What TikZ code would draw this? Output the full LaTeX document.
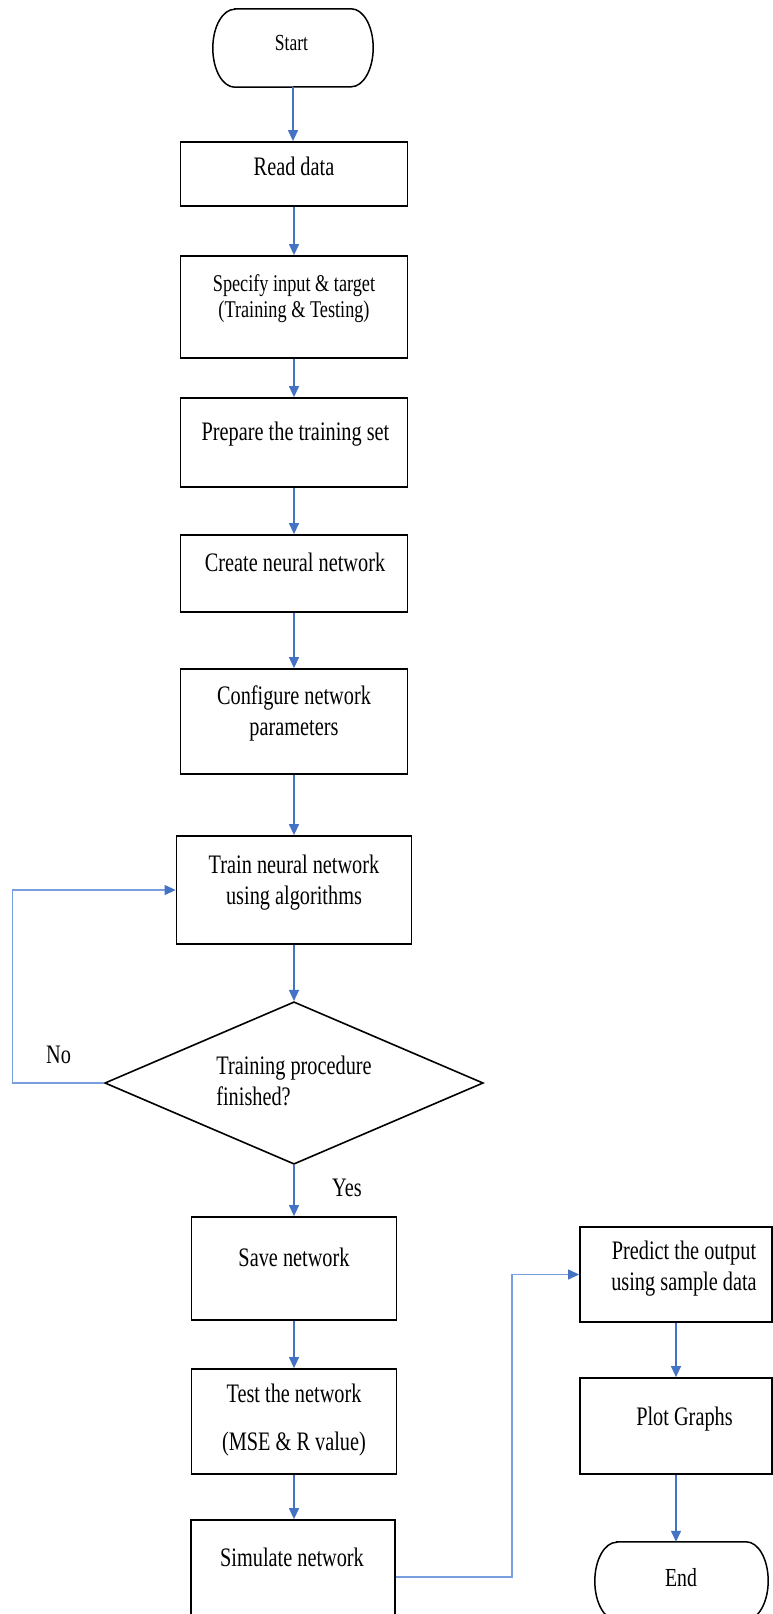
\documentclass[tikz,border=0pt]{standalone}
\usepackage{fontspec}
\setmainfont{Liberation Serif}[FakeStretch=0.76]
\usetikzlibrary{shapes.geometric,arrows.meta}
\definecolor{arrblue}{RGB}{68,114,196}
\definecolor{lineblue}{RGB}{120,158,222}
\tikzset{
  procbox/.style={draw=black, line width=1.8pt, inner sep=0pt, shape=rectangle},
  termbox/.style={inner sep=0pt, shape=rectangle},
  termline/.style={draw=black, line width=1.5pt},
  txt/.style={inner sep=0pt, anchor=base, align=center, font=\fontsize{26.7}{30.5}\selectfont},
  arr/.style={draw=arrblue, line width=1.3pt, -{Triangle[length=11pt,width=10pt,fill=arrblue]}},
  backarr/.style={draw=lineblue, line width=1.1pt, -{Triangle[length=11pt,width=10pt,color=arrblue,fill=arrblue]}}
}
\begin{document}
\begin{tikzpicture}[x=1pt,y=1pt]
\useasboundingbox (0,0) rectangle (773,-1614);
\clip (0,0) rectangle (773,-1614);
\fill[white] (0,0) rectangle (773,-1614);

% terminals
\node[termbox, minimum width=160pt, minimum height=78pt] (start) at (293,-48) {};
\draw[termline] ([xshift=22pt]start.north west) -- ([xshift=-22pt]start.north east)
  arc[start angle=90,end angle=-90,x radius=22pt,y radius=39pt]
  -- ([xshift=22pt]start.south west)
  arc[start angle=270,end angle=90,x radius=22pt,y radius=39pt] -- cycle;
\node[txt, font=\fontsize{23}{27}\selectfont] (startt) at (291.5,-50) {Start};

\node[termbox, minimum width=173pt, minimum height=78pt] (end) at (681.5,-1581) {};
\draw[termline] ([xshift=22pt]end.north west) -- ([xshift=-22pt]end.north east)
  arc[start angle=90,end angle=-90,x radius=22pt,y radius=39pt]
  -- ([xshift=22pt]end.south west)
  arc[start angle=270,end angle=90,x radius=22pt,y radius=39pt] -- cycle;
\node[txt, font=\fontsize{26}{30}\selectfont] (endt) at (681,-1586) {End};

% process boxes
\node[procbox, minimum width=227pt, minimum height=64pt] (read) at (294,-174) {};
\node[procbox, minimum width=227pt, minimum height=102pt] (spec) at (294,-307) {};
\node[procbox, minimum width=227pt, minimum height=89pt] (prep) at (294,-442.5) {};
\node[procbox, minimum width=227pt, minimum height=77pt] (create) at (294,-573.5) {};
\node[procbox, minimum width=227pt, minimum height=105pt] (config) at (294,-721.5) {};
\node[procbox, minimum width=235pt, minimum height=108pt] (train) at (294,-890) {};
\node[draw=black, line width=1.6pt, diamond, inner sep=0pt, minimum width=378.5pt, minimum height=162.5pt] (dia) at (294,-1083) {};
\node[procbox, minimum width=205pt, minimum height=103pt] (save) at (294,-1268.5) {};
\node[procbox, minimum width=205pt, minimum height=105pt] (test) at (294,-1421.5) {};
\node[procbox, minimum width=204.5pt, minimum height=100pt] (sim) at (293,-1570) {};
\node[procbox, minimum width=192pt, minimum height=95pt] (pred) at (676,-1274.5) {};
\node[procbox, minimum width=192pt, minimum height=96pt] (plot) at (676,-1426) {};

% texts (multi-line nodes: base anchor = last line's baseline)
\node[txt] (readt) at (294,-175) {Read data};
\node[txt, font=\fontsize{24}{26.3}\selectfont] (spect) at (294,-317.3) {Specify input \& target\\(Training \& Testing)};
\node[txt] (prept) at (295.5,-440.7) {Prepare the training set};
\node[txt] (createt) at (295,-571.7) {Create neural network};
\node[txt] (configt) at (294,-735) {Configure network\\parameters};
\node[txt] (traint) at (294,-904) {Train neural network\\using algorithms};
\node[txt, align=left, font=\fontsize{26.7}{31}\selectfont] (diat) at (294,-1105) {Training procedure\\finished?};
\node[txt] (savet) at (294,-1266.7) {Save network};
\node[txt] (testt) at (294,-1450) {Test the network\\[17pt](MSE \& R value)};
\node[txt] (simt) at (292,-1566.7) {Simulate network};
\node[txt] (predt) at (684,-1290) {Predict the output\\using sample data};
\node[txt] (plott) at (684.5,-1425) {Plot Graphs};
\node[txt, anchor=base west] (no) at (46,-1063) {No};
\node[txt, anchor=base west] (yes) at (332,-1196) {Yes};

% connectors
\draw[arr] (start.south) -- (start.south |- read.north);
\draw[arr] (read.south) -- (spec.north);
\draw[arr] (spec.south) -- (prep.north);
\draw[arr] (prep.south) -- (create.north);
\draw[arr] (create.south) -- (config.north);
\draw[arr] (config.south) -- (train.north);
\draw[arr] (train.south) -- (dia.north);
\draw[arr] (dia.south) -- (save.north);
\draw[arr] (save.south) -- (test.north);
\draw[arr] (test.south) -- (test.south |- sim.north);
\draw[arr] (pred.south) -- (plot.north);
\draw[arr] (plot.south) -- (plot.south |- end.north);
\coordinate (loopc) at (12.5,-1083);
\draw[backarr] (dia.west) -- (loopc) |- (train.west);
\coordinate (simc) at (512,-1577);
\draw[backarr] (sim.east |- simc) -- (simc) |- (pred.west);
\end{tikzpicture}
\end{document}
